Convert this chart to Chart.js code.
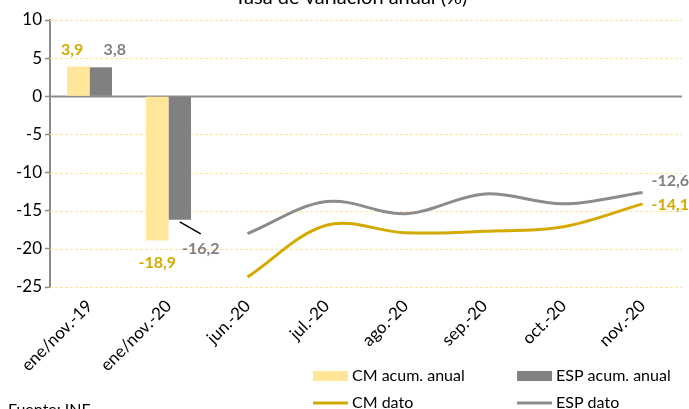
<!DOCTYPE html>
<html>
<head>
<meta charset="utf-8">
<script src="https://cdn.jsdelivr.net/npm/chart.js@4.4.0/dist/chart.umd.min.js"></script>
<style>
  html, body { margin: 0; padding: 0; background: #fff; }
  #wrap { width: 689px; height: 409px; }
</style>
</head>
<body>
<div id="wrap"><canvas id="myChart" width="689" height="409"></canvas></div>
<script>
var ctx = document.getElementById('myChart').getContext('2d');

var labels = ['ene/nov.-19', 'ene/nov.-20', 'jun.-20', 'jul.-20', 'ago.-20', 'sep.-20', 'oct.-20', 'nov.-20'];
var cmAcum = [3.9, -18.9, null, null, null, null, null, null];
var espAcum = [3.8, -16.2, null, null, null, null, null, null];
var cmDato = [null, null, -23.7, -16.9, -17.9, -17.7, -17.1, -14.1];
var espDato = [null, null, -18.0, -13.8, -15.4, -12.8, -14.1, -12.6];
var yTicks = [10, 5, 0, -5, -10, -15, -20, -25];

var GOLD = '#D4AA00', GRAY = '#808080', FONT = 'Lato';

function fmt(v) {
  return v.toFixed(1).replace('.', ',');
}

// dashed grid + zero line
var gridPlugin = {
  id: 'grid',
  beforeDatasetsDraw: function(chart) {
    var c = chart.ctx, a = chart.chartArea, y = chart.scales.y;
    c.save();
    yTicks.forEach(function(t) {
      var py = Math.round(y.getPixelForValue(t)) + 0.5;
      c.beginPath();
      if (t === 0) {
        c.setLineDash([]);
        c.strokeStyle = '#8C8C8C';
        c.lineWidth = 2;
      } else {
        c.setLineDash([3, 2]);
        c.strokeStyle = '#FFE699';
        c.lineWidth = 1;
      }
      c.moveTo(a.left, py);
      c.lineTo(a.right, py);
      c.stroke();
    });
    c.restore();
  }
};

var labelPlugin = {
  id: 'valueLabels',
  afterDatasetsDraw: function(chart) {
    var c = chart.ctx;
    c.save();
    c.font = 'bold 16px ' + FONT;
    c.textBaseline = 'middle';
    chart.data.datasets.forEach(function(ds, di) {
      var meta = chart.getDatasetMeta(di);
      ds.data.forEach(function(v, i) {
        if (v == null) return;
        var el = meta.data[i];
        c.fillStyle = ds.labelColor;
        if (ds.type === 'line') {
          if (i !== ds.data.length - 1) return;
          c.textAlign = 'left';
          c.fillText(fmt(v), el.x + 9, el.y + ds.labelDy);
        } else if (v >= 0) {
          c.textAlign = 'center';
          c.fillText(fmt(v), el.x + ds.labelDx, el.y - 17);
        } else if (ds.callout) {
          c.strokeStyle = '#000';
          c.lineWidth = 1.5;
          c.beginPath();
          c.moveTo(el.x, el.y + 2);
          c.lineTo(el.x + 21, el.y + 14);
          c.stroke();
          c.textAlign = 'center';
          c.fillText(fmt(v), el.x + 21, el.y + 29);
        } else {
          c.textAlign = 'center';
          c.fillText(fmt(v), el.x, el.y + 22);
        }
      });
    });
    c.restore();
  }
};

var extrasPlugin = {
  id: 'extras',
  afterDraw: function(chart) {
    var c = chart.ctx;
    c.save();
    // title (cut at the top)
    c.fillStyle = '#000';
    c.font = '20px ' + FONT;
    c.textAlign = 'center';
    c.textBaseline = 'alphabetic';
    c.fillText('Tasa de variación anual (%)', 351, 4);
    // source
    c.font = '16px ' + FONT;
    c.textAlign = 'left';
    c.textBaseline = 'top';
    c.fillText('Fuente: INE', 8, 402);
    // legend 2x2
    var cols = [313, 517], rows = [376, 403];
    chart.data.datasets.forEach(function(ds, i) {
      var x = cols[i % 2], yy = rows[Math.floor(i / 2)];
      if (ds.type === 'line') {
        c.strokeStyle = ds.borderColor;
        c.lineWidth = 3;
        c.beginPath();
        c.moveTo(x, yy);
        c.lineTo(x + 35, yy);
        c.stroke();
      } else {
        c.fillStyle = ds.backgroundColor;
        c.fillRect(x, yy - 5, 35, 10);
      }
      c.fillStyle = '#000';
      c.textBaseline = 'middle';
      c.fillText(ds.label, x + 39, yy);
    });
    c.restore();
  }
};

new Chart(ctx, {
  type: 'bar',
  data: {
    labels: labels,
    datasets: [{
      label: 'CM acum. anual',
      data: cmAcum,
      backgroundColor: '#FFE699',
      labelColor: GOLD,
      labelDx: -6,
      categoryPercentage: 0.57,
      barPercentage: 1,
      order: 2
    }, {
      label: 'ESP acum. anual',
      data: espAcum,
      backgroundColor: GRAY,
      labelColor: GRAY,
      labelDx: 14,
      callout: true,
      categoryPercentage: 0.57,
      barPercentage: 1,
      order: 2
    }, {
      type: 'line',
      label: 'CM dato',
      data: cmDato,
      borderColor: GOLD,
      borderWidth: 3,
      pointRadius: 0,
      tension: 0.35,
      labelColor: GOLD,
      labelDy: 1,
      order: 1
    }, {
      type: 'line',
      label: 'ESP dato',
      data: espDato,
      borderColor: '#8C8C8C',
      borderWidth: 3,
      pointRadius: 0,
      tension: 0.35,
      labelColor: GRAY,
      labelDy: -12,
      order: 1
    }]
  },
  options: {
    responsive: false,
    animation: false,
    layout: { padding: { top: 20, right: 7, bottom: 20, left: 0 } },
    plugins: {
      legend: { display: false },
      tooltip: { enabled: false }
    },
    scales: {
      x: {
        offset: true,
        grid: { display: false },
        border: { display: false },
        ticks: {
          color: '#000',
          minRotation: 45,
          maxRotation: 45,
          padding: 1,
          font: { family: FONT, size: 17 }
        },
        afterFit: function(s) { s.height = 102; }
      },
      y: {
        min: -25,
        max: 10,
        afterBuildTicks: function(s) {
          s.ticks = yTicks.map(function(v) { return { value: v }; });
        },
        grid: {
          drawOnChartArea: false,
          tickLength: 5,
          tickColor: '#8C8C8C',
          tickWidth: 1.5
        },
        border: { color: '#8C8C8C', width: 2 },
        ticks: {
          color: '#000',
          padding: 3,
          font: { family: FONT, size: 17 }
        },
        afterFit: function(s) { s.width = 50; }
      }
    }
  },
  plugins: [gridPlugin, labelPlugin, extrasPlugin]
});
</script>
</body>
</html>
